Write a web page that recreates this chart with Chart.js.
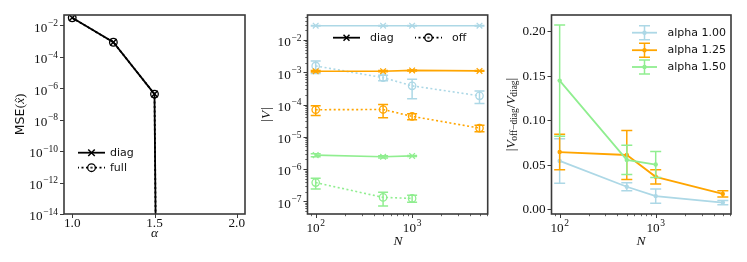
<!DOCTYPE html>
<html><head><meta charset="utf-8">
<script src="https://cdn.jsdelivr.net/npm/chart.js@4"></script>
<style>
html,body{margin:0;padding:0;background:#fff;}
#wrap{position:relative;width:747px;height:262px;overflow:hidden;background:#fff;}
.pane{position:absolute;top:0;height:262px;}
canvas{display:block;}
</style></head><body>
<div id="wrap">
  <div class="pane" style="left:0px;width:250px"><canvas id="c1" width="250" height="262"></canvas></div>
  <div class="pane" style="left:250px;width:250px"><canvas id="c2" width="250" height="262"></canvas></div>
  <div class="pane" style="left:500px;width:247px"><canvas id="c3" width="247" height="262"></canvas></div>
</div>
<script>
// ---------------- data ----------------
// Panel 1: MSE vs alpha (0 = exactly zero error)
const alphaValues = [1.0, 1.25, 1.5, 1.75, 2.0];
const mseDiag = [0.0295, 8.3e-4, 4.2e-7, 0, 0];
const mseFull = [0.0295, 8.3e-4, 4.2e-7, 0, 0];
const alphaTicks = [1.0, 1.5, 2.0];
const alphaTickLabels = ['1.0', '1.5', '2.0'];
const mseTicks = [1e-2, 1e-4, 1e-6, 1e-8, 1e-10, 1e-12, 1e-14];
const mseTickLabels = ['10^-2', '10^-4', '10^-6', '10^-8', '10^-10', '10^-12', '10^-14'];

// Panels 2 and 3: sample sizes
const sampleSizes = [100, 500, 1000, 5000];
const sampleSizesA150 = [100, 500, 1000];
const nTicks = [100, 1000];
const nTickLabels = ['10^2', '10^3'];

// Panel 2: |V| (values and +- errors)
const diagA100 = [0.0277, 0.0277, 0.0277, 0.0277];
const diagErrA100 = [5e-4, 5e-4, 5e-4, 5e-4];
const offA100 = [1.57e-3, 6.8e-4, 3.8e-4, 1.86e-4];
const offErrA100 = [6.5e-4, 1.3e-4, 2.3e-4, 7.8e-5];
const diagA125 = [1.07e-3, 1.08e-3, 1.14e-3, 1.10e-3];
const diagErrA125 = [6e-5, 5e-5, 4e-5, 3e-5];
const offA125 = [6.9e-5, 7.0e-5, 4.3e-5, 1.86e-5];
const offErrA125 = [2.3e-5, 3.1e-5, 9e-6, 4.3e-6];
const diagA150 = [2.7e-6, 2.4e-6, 2.55e-6];
const diagErrA150 = [3e-7, 2e-7, 1e-7];
const offA150 = [3.8e-7, 1.32e-7, 1.23e-7];
const offErrA150 = [1.4e-7, 6e-8, 3e-8];
const vTicks = [1e-7, 1e-6, 1e-5, 1e-4, 1e-3, 1e-2];
const vTickLabels = ['10^-7', '10^-6', '10^-5', '10^-4', '10^-3', '10^-2'];

// Panel 3: |V_off-diag / V_diag|
const ratioA100 = [0.054, 0.0250, 0.0145, 0.0072];
const ratioErrA100 = [0.025, 0.0045, 0.0080, 0.0025];
const ratioA125 = [0.064, 0.0607, 0.0362, 0.0170];
const ratioErrA125 = [0.020, 0.0275, 0.0080, 0.0035];
const ratioA150 = [0.1443, 0.0552, 0.0500];
const ratioErrA150 = [0.0625, 0.0165, 0.0145];
const ratioTicks = [0, 0.05, 0.10, 0.15, 0.20];
const ratioTickLabels = ['0.00', '0.05', '0.10', '0.15', '0.20'];
const seriesNames = ['alpha 1.00', 'alpha 1.25', 'alpha 1.50'];
const panel1Legend = ['diag', 'full'];
const panel2Legend = ['diag', 'off'];

// ---------------- styles ----------------
const SERIF = '"Liberation Serif","DejaVu Serif",serif';
const SANS = '"DejaVu Sans","Liberation Sans",sans-serif';
const INK = '#3a3a3a';
const C_BLUE = '#add8e6', C_ORANGE = '#ffa500', C_GREEN = '#90ee90';
const DOT = [2, 2.5];
const TICK_FS = 13.2;
const LEG_FONT = '11px ' + SANS;

function pts(xs, ys, logY) {
  // matplotlib clips non-positive values on log axes to a tiny positive number
  return ys.map((y, i) => ({x: xs[i], y: (logY && y <= 0) ? 1e-300 : y}));
}
function minorLog(lo, hi) {
  const out = [];
  for (let d = Math.floor(Math.log10(lo)); d <= Math.ceil(Math.log10(hi)); d++)
    for (let k = 2; k <= 9; k++) { const v = k * Math.pow(10, d); if (v > lo && v < hi) out.push(v); }
  return out;
}

function mathText(ctx, label, x, y, align, size) {
  const parts = label.split('^');
  const base = parts[0];
  const sup = parts.length > 1 ? parts[1].replace('-', '\u2212') : '';
  const ss = size * 0.72;
  ctx.font = size + 'px ' + SERIF;
  const wb = ctx.measureText(base).width;
  ctx.font = ss + 'px ' + SERIF;
  const ws = sup ? ctx.measureText(sup).width + 0.6 : 0;
  const w = wb + ws;
  const x0 = align === 'right' ? x - w : (align === 'center' ? x - w / 2 : x);
  ctx.textAlign = 'left'; ctx.textBaseline = 'alphabetic';
  ctx.font = size + 'px ' + SERIF;
  ctx.fillText(base, x0, y);
  if (sup) { ctx.font = ss + 'px ' + SERIF; ctx.fillText(sup, x0 + wb + 0.6, y - size * 0.42); }
}

// rich text runs: [text, font, dy, extraAdvance]
function runs(ctx, items, cx, cy, rotate) {
  ctx.save();
  ctx.translate(cx, cy);
  if (rotate) ctx.rotate(-Math.PI / 2);
  ctx.textAlign = 'left'; ctx.textBaseline = 'alphabetic';
  let w = 0;
  items.forEach(it => { ctx.font = it[1]; it.w = ctx.measureText(it[0]).width; w += it.w + (it[3] || 0); });
  let x = -w / 2;
  items.forEach(it => { ctx.font = it[1]; ctx.fillText(it[0], x, 4.5 + (it[2] || 0)); x += it.w + (it[3] || 0); });
  ctx.restore();
  return -w / 2;
}

function marker(ctx, style, x, y, r, color, lw) {
  ctx.save(); ctx.strokeStyle = color; ctx.fillStyle = color; ctx.lineWidth = lw; ctx.setLineDash([]);
  ctx.beginPath();
  if (style === 'crossRot') {
    const d = r * Math.SQRT1_2;
    ctx.moveTo(x - d, y - d); ctx.lineTo(x + d, y + d); ctx.moveTo(x - d, y + d); ctx.lineTo(x + d, y - d); ctx.stroke();
  } else if (style === 'ring') { ctx.arc(x, y, r, 0, 2 * Math.PI); ctx.stroke(); }
  else { ctx.arc(x, y, r, 0, 2 * Math.PI); ctx.fill(); }
  ctx.restore();
}
function handleLine(ctx, x1, x2, y, color, lw, dotted) {
  ctx.save(); ctx.strokeStyle = color; ctx.lineWidth = lw; ctx.lineCap = 'butt';
  const xc = (x1 + x2) / 2;
  if (dotted) {
    ctx.setLineDash(DOT); ctx.lineDashOffset = 1;
    ctx.beginPath(); ctx.moveTo(xc, y); ctx.lineTo(x2, y); ctx.stroke();
    ctx.beginPath(); ctx.moveTo(xc, y); ctx.lineTo(x1, y); ctx.stroke();
  } else {
    ctx.beginPath(); ctx.moveTo(x1, y); ctx.lineTo(x2, y); ctx.stroke();
  }
  ctx.restore();
}

const errorBars = {
  id: 'errorBars',
  beforeDatasetDraw(chart, args) {
    const ds = chart.data.datasets[args.index];
    if (!ds.errors) return;
    const ys = chart.scales.y, a = chart.chartArea, ctx = chart.ctx;
    const cap = ds.capHalf || 5;
    ctx.save();
    ctx.beginPath(); ctx.rect(a.left, a.top, a.right - a.left, a.bottom - a.top); ctx.clip();
    ctx.strokeStyle = ds.borderColor; ctx.lineWidth = ds.errWidth || 1.5; ctx.setLineDash([]);
    ds.data.forEach((p, i) => {
      const e = ds.errors[i], el = args.meta.data[i];
      const x = el.x;
      const yT = ys.getPixelForValue(p.y + e);
      const lo = p.y - e;
      const yB = (ys.type !== 'logarithmic' || lo > 0) ? ys.getPixelForValue(lo) : a.bottom + 20;
      ctx.beginPath();
      ctx.moveTo(x, yT); ctx.lineTo(x, yB);
      ctx.moveTo(x - cap, yT); ctx.lineTo(x + cap, yT);
      ctx.moveTo(x - cap, yB); ctx.lineTo(x + cap, yB);
      ctx.stroke();
    });
    ctx.restore();
  }
};

function axesPlugin(spec) {
  return {
    id: 'axesDeco',
    afterDraw(chart) {
      const ctx = chart.ctx, a = chart.chartArea, xs = chart.scales.x, ys = chart.scales.y;
      ctx.save();
      ctx.fillStyle = '#111'; ctx.strokeStyle = INK;
      ctx.lineWidth = 1;
      ctx.beginPath();
      spec.x.major.forEach(v => { const p = Math.round(xs.getPixelForValue(v)) + 0.5; ctx.moveTo(p, a.bottom); ctx.lineTo(p, a.bottom + 4); });
      spec.y.major.forEach(v => { const p = Math.round(ys.getPixelForValue(v)) + 0.5; ctx.moveTo(a.left, p); ctx.lineTo(a.left - 4, p); });
      ctx.stroke();
      ctx.lineWidth = 0.8;
      ctx.beginPath();
      (spec.x.minor || []).forEach(v => { const p = Math.round(xs.getPixelForValue(v)) + 0.5; ctx.moveTo(p, a.bottom); ctx.lineTo(p, a.bottom + 2.2); });
      (spec.y.minor || []).forEach(v => { const p = Math.round(ys.getPixelForValue(v)) + 0.5; ctx.moveTo(a.left, p); ctx.lineTo(a.left - 2.2, p); });
      ctx.stroke();
      ctx.lineWidth = 1.6; ctx.strokeStyle = INK;
      ctx.strokeRect(a.left, a.top, a.right - a.left, a.bottom - a.top);
      spec.x.major.forEach((v, i) => {
        const p = xs.getPixelForValue(v);
        mathText(ctx, spec.x.labels[i], p, a.bottom + spec.x.base, 'center', TICK_FS);
      });
      spec.y.major.forEach((v, i) => {
        const p = ys.getPixelForValue(v);
        const lab = spec.y.labels[i];
        mathText(ctx, lab, a.left - 6, p + (lab.indexOf('^') >= 0 ? 6.4 : 4.4), 'right', TICK_FS);
      });
      if (spec.extra) spec.extra(ctx, chart);
      ctx.restore();
    }
  };
}

const common = {
  responsive: false, animation: false, events: [],
  plugins: {legend: {display: false}, tooltip: {enabled: false}, title: {display: false}},
  elements: {line: {tension: 0, borderCapStyle: 'butt'}}
};
function scaleOpts(type, min, max, fit) {
  return {
    type, min, max, display: true,
    grid: {display: false}, border: {display: false}, ticks: {display: false},
    afterFit: fit
  };
}

// ---------------- Panel 1 ----------------
new Chart(document.getElementById('c1'), {
  type: 'line',
  data: {datasets: [
    {data: pts(alphaValues, mseDiag, true), borderColor: '#000', borderWidth: 1.8,
     pointStyle: 'crossRot', pointRadius: 4.6, pointBorderWidth: 1.5, pointBorderColor: '#000', pointBackgroundColor: '#000'},
    {data: pts(alphaValues, mseFull, true), borderColor: '#000', borderWidth: 1.8, borderDash: DOT,
     pointStyle: 'circle', pointRadius: 3.8, pointBorderWidth: 1.3, pointBorderColor: '#000', pointBackgroundColor: 'rgba(0,0,0,0)'}
  ]},
  options: Object.assign({}, common, {
    layout: {autoPadding: false, padding: {top: 15, right: 5, left: 0, bottom: 0}},
    scales: {
      x: scaleOpts('linear', 0.95, 2.05, s => { s.height = 48; }),
      y: scaleOpts('logarithmic', 1e-14, Math.pow(10, -1.35), s => { s.width = 64; })
    }
  }),
  plugins: [axesPlugin({
    x: {major: alphaTicks, labels: alphaTickLabels, base: 13},
    y: {major: mseTicks, labels: mseTickLabels},
    extra(ctx) {
      ctx.fillStyle = '#111';
      const cx = 19.5, cy = 114.5;
      runs(ctx, [['MSE', '12.5px ' + SANS, 0, 0.5], ['(', '13px ' + SERIF], ['x', 'italic 13px ' + SERIF], [')', '13px ' + SERIF]], cx, cy, true);
      ctx.save(); ctx.translate(cx, cy); ctx.rotate(-Math.PI / 2);
      ctx.font = '12.5px ' + SANS; const wm = ctx.measureText('MSE').width + 0.5;
      ctx.font = '13px ' + SERIF; const wp = ctx.measureText('(').width; const wc = ctx.measureText(')').width;
      ctx.font = 'italic 13px ' + SERIF; const wx = ctx.measureText('x').width;
      const tot = wm + wp + wx + wc; const hx = -tot / 2 + wm + wp + wx / 2 + 0.8;
      ctx.strokeStyle = '#111'; ctx.lineWidth = 0.8; ctx.beginPath();
      ctx.moveTo(hx - 2, -2.6); ctx.lineTo(hx, -4.5); ctx.lineTo(hx + 2, -2.6); ctx.stroke();
      ctx.restore();
      runs(ctx, [['\u03b1', 'italic 13.5px ' + SERIF]], 154.5, 232, false);
      handleLine(ctx, 78, 105, 152.7, '#000', 1.8, false);
      marker(ctx, 'crossRot', 91.5, 152.7, 4.6, '#000', 1.5);
      handleLine(ctx, 78, 105, 167.7, '#000', 1.8, true);
      marker(ctx, 'ring', 91.5, 167.7, 3.8, '#000', 1.3);
      ctx.fillStyle = '#111'; ctx.font = LEG_FONT; ctx.textAlign = 'left'; ctx.textBaseline = 'middle';
      ctx.fillText(panel1Legend[0], 110, 152.7);
      ctx.fillText(panel1Legend[1], 110, 167.7);
    }
  }), errorBars]
});

// ---------------- Panel 2 ----------------
function p2ds(xs, ys, errs, color, isOff, idx) {
  return {
    data: pts(xs, ys, true), errors: errs, capHalf: 5, errWidth: 1.5, order: -idx,
    borderColor: color, borderWidth: 1.6, borderDash: isOff ? DOT : [],
    pointStyle: isOff ? 'circle' : 'crossRot', pointRadius: isOff ? 3.7 : 4,
    pointBorderWidth: 1.3, pointBorderColor: color,
    pointBackgroundColor: isOff ? 'rgba(0,0,0,0)' : color
  };
}
new Chart(document.getElementById('c2'), {
  type: 'line',
  data: {datasets: [
    p2ds(sampleSizes, diagA100, diagErrA100, C_BLUE, false, 0),
    p2ds(sampleSizes, offA100, offErrA100, C_BLUE, true, 1),
    p2ds(sampleSizes, diagA125, diagErrA125, C_ORANGE, false, 2),
    p2ds(sampleSizes, offA125, offErrA125, C_ORANGE, true, 3),
    p2ds(sampleSizesA150, diagA150, diagErrA150, C_GREEN, false, 4),
    p2ds(sampleSizesA150, offA150, offErrA150, C_GREEN, true, 5)
  ]},
  options: Object.assign({}, common, {
    layout: {autoPadding: false, padding: {top: 15, right: 12.3, left: 0, bottom: 0}},
    scales: {
      x: scaleOpts('logarithmic', Math.pow(10, 1.915), Math.pow(10, 3.784), s => { s.height = 48; }),
      y: scaleOpts('logarithmic', Math.pow(10, -7.394), Math.pow(10, -1.225), s => { s.width = 57.5; })
    }
  }),
  plugins: [axesPlugin({
    x: {major: nTicks, labels: nTickLabels, base: 18, minor: minorLog(Math.pow(10, 1.915), Math.pow(10, 3.784))},
    y: {major: vTicks, labels: vTickLabels, minor: minorLog(Math.pow(10, -7.394), Math.pow(10, -1.225))},
    extra(ctx) {
      ctx.fillStyle = '#111';
      runs(ctx, [['|', '13.5px ' + SERIF], ['V', 'italic 13.5px ' + SERIF, 0, 1], ['|', '13.5px ' + SERIF]], 15.5, 114.5, true);
      runs(ctx, [['N', 'italic 13.5px ' + SERIF]], 148, 240, false);
      handleLine(ctx, 83, 110, 37.7, '#000', 1.8, false);
      marker(ctx, 'crossRot', 96.5, 37.7, 4.2, '#000', 1.5);
      handleLine(ctx, 165, 192, 37.7, '#000', 1.8, true);
      marker(ctx, 'ring', 178.5, 37.7, 3.7, '#000', 1.3);
      ctx.fillStyle = '#111'; ctx.font = LEG_FONT; ctx.textAlign = 'left'; ctx.textBaseline = 'middle';
      ctx.fillText(panel2Legend[0], 120, 37.7);
      ctx.fillText(panel2Legend[1], 202, 37.7);
    }
  }), errorBars]
});

// ---------------- Panel 3 ----------------
function p3ds(xs, ys, errs, color, idx) {
  return {
    data: pts(xs, ys, false), errors: errs, capHalf: 5.5, errWidth: 1.5, order: -idx,
    borderColor: color, borderWidth: 1.8,
    pointStyle: 'circle', pointRadius: 2.2, pointBorderWidth: 0,
    pointBackgroundColor: color
  };
}
const p3colors = [C_BLUE, C_ORANGE, C_GREEN];
new Chart(document.getElementById('c3'), {
  type: 'line',
  data: {datasets: [
    p3ds(sampleSizes, ratioA100, ratioErrA100, C_BLUE, 0),
    p3ds(sampleSizes, ratioA125, ratioErrA125, C_ORANGE, 1),
    p3ds(sampleSizesA150, ratioA150, ratioErrA150, C_GREEN, 2)
  ]},
  options: Object.assign({}, common, {
    layout: {autoPadding: false, padding: {top: 15, right: 16, left: 0, bottom: 0}},
    scales: {
      x: scaleOpts('logarithmic', Math.pow(10, 1.915), Math.pow(10, 3.784), s => { s.height = 48; }),
      y: scaleOpts('linear', -0.0056, 0.218, s => { s.width = 51.5; })
    }
  }),
  plugins: [axesPlugin({
    x: {major: nTicks, labels: nTickLabels, base: 18, minor: minorLog(Math.pow(10, 1.915), Math.pow(10, 3.784))},
    y: {major: ratioTicks, labels: ratioTickLabels},
    extra(ctx) {
      ctx.fillStyle = '#111';
      const R = '13.5px ' + SERIF, I = 'italic 13.5px ' + SERIF, S = '9.5px ' + SERIF;
      runs(ctx, [['|', R], ['V', I, 0, -0.5], ['off\u2212diag', S, 2.5], ['/', R], ['V', I, 0, -0.5], ['diag', S, 2.5], ['|', R]], 10, 114.5, true);
      runs(ctx, [['N', 'italic 13.5px ' + SERIF]], 141, 240, false);
      const rows = [32.7, 50.2, 67.0];
      seriesNames.forEach((name, i) => {
        const y = rows[i], c = p3colors[i];
        handleLine(ctx, 132, 157, y, c, 1.8, false);
        ctx.save(); ctx.strokeStyle = c; ctx.lineWidth = 1.5; ctx.beginPath();
        ctx.moveTo(144.5, y - 7); ctx.lineTo(144.5, y + 7);
        ctx.moveTo(139, y - 7); ctx.lineTo(150, y - 7);
        ctx.moveTo(139, y + 7); ctx.lineTo(150, y + 7);
        ctx.stroke(); ctx.restore();
        marker(ctx, 'dot', 144.5, y, 2.2, c, 1);
        ctx.fillStyle = '#111'; ctx.font = LEG_FONT; ctx.textAlign = 'left'; ctx.textBaseline = 'middle';
        ctx.fillText(name, 167.5, y);
      });
    }
  }), errorBars]
});
</script>
</body></html>
